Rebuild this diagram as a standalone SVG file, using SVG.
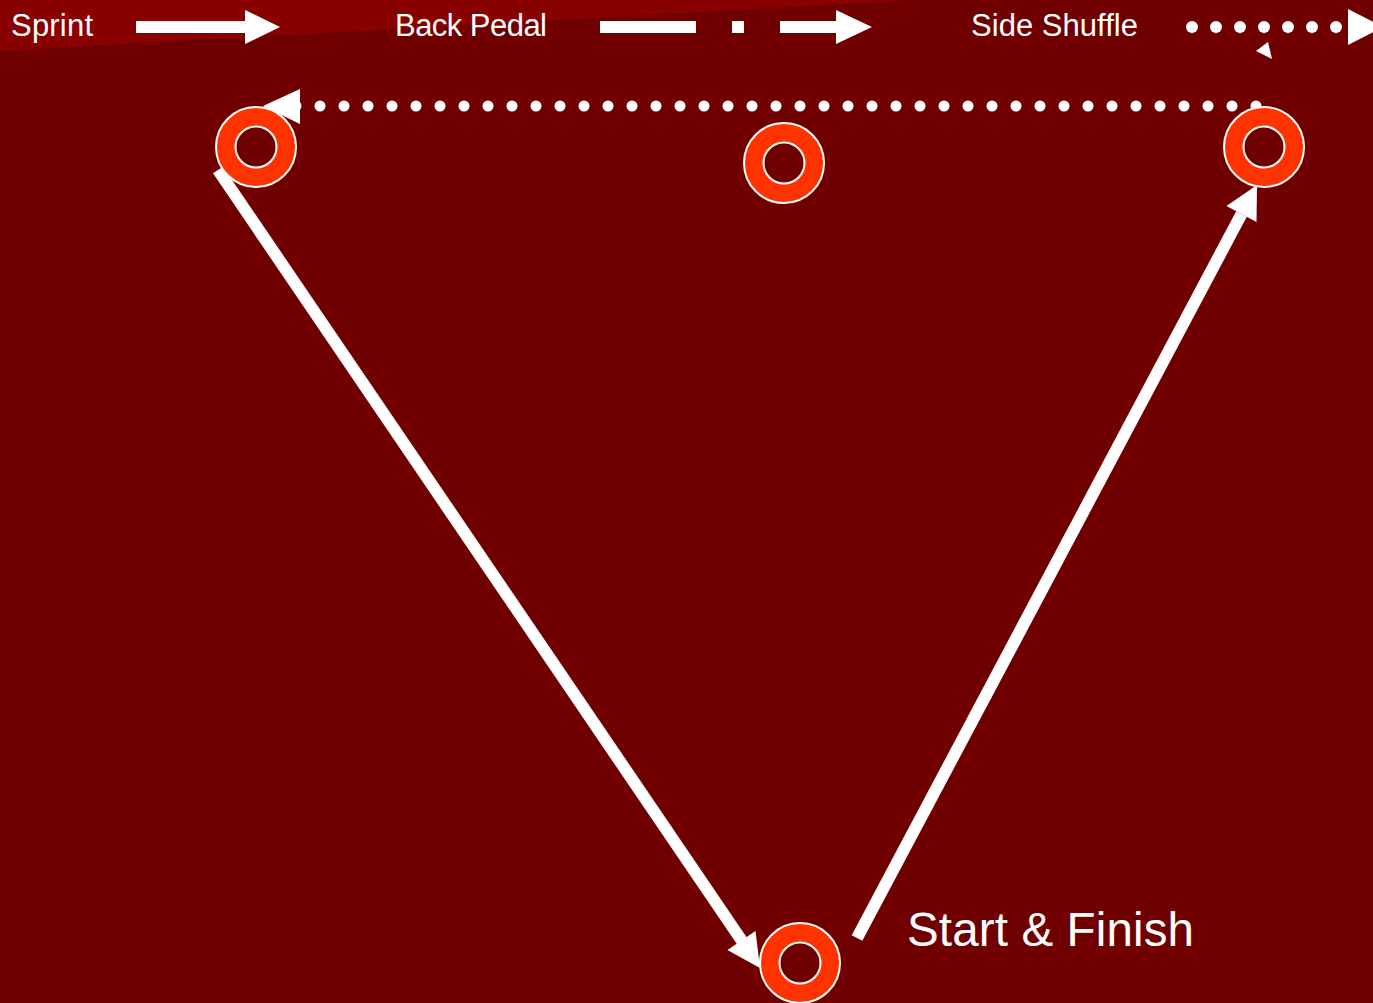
<svg xmlns="http://www.w3.org/2000/svg" width="1373" height="1003" viewBox="0 0 1373 1003">
  <defs>
    <style>
      .lbl { font-family: "Liberation Sans", Arial, sans-serif; fill: #ffffff; }
      .wf { fill: #ffffff; }
      .ws { stroke: #ffffff; fill: none; }
      .cone { fill: #ff3300; stroke: #ffffff; stroke-width: 2; }
      .hole { fill: #700000; stroke: #ffffff; stroke-width: 2; }
    </style>
    <g id="coneShape">
      <circle class="cone" r="40"/>
      <circle class="hole" r="20.5"/>
    </g>
  </defs>
  <rect width="1373" height="1003" fill="#700000"/>
  <polygon points="0,0 915,0 0,51" fill="#880000"/>

  <g id="legend">
    <text class="lbl" x="11" y="36" font-size="31" textLength="82">Sprint</text>
    <rect class="wf" x="136" y="21" width="110" height="12"/>
    <polygon class="wf" points="245,10 280,27 245,44"/>
    <text class="lbl" x="395" y="36" font-size="31" textLength="152">Back Pedal</text>
    <rect class="wf" x="600" y="21" width="96" height="12"/>
    <rect class="wf" x="732" y="21" width="12" height="12"/>
    <rect class="wf" x="780" y="21" width="57" height="12"/>
    <polygon class="wf" points="836,10 872,27 836,44"/>
    <text class="lbl" x="971" y="36" font-size="31" textLength="167">Side Shuffle</text>
    <g class="wf">
      <circle cx="1192" cy="27" r="6"/>
      <circle cx="1216" cy="27" r="6"/>
      <circle cx="1240" cy="27" r="6"/>
      <circle cx="1264" cy="27" r="6"/>
      <circle cx="1288" cy="27" r="6"/>
      <circle cx="1312" cy="27" r="6"/>
      <circle cx="1336" cy="27" r="6"/>
    </g>
    <polygon class="wf" points="1348,9 1383,27 1348,45"/>
    <polygon class="wf" points="1256,51 1268,42 1272,59"/>
  </g>

  <g id="connectors">
    <line class="ws" x1="218" y1="170" x2="742" y2="941" stroke-width="12"/>
    <polygon class="wf" points="760,968 755.5,931 727.4,950"/>
    <line class="ws" x1="857" y1="938" x2="1241.5" y2="214" stroke-width="12"/>
    <polygon class="wf" points="1257,185 1256.5,222 1226.5,206"/>
    <g class="wf">
      <circle cx="296" cy="106" r="5.5"/>
      <circle cx="320" cy="106" r="5.5"/><circle cx="344" cy="106" r="5.5"/><circle cx="368" cy="106" r="5.5"/><circle cx="392" cy="106" r="5.5"/>
      <circle cx="416" cy="106" r="5.5"/><circle cx="440" cy="106" r="5.5"/><circle cx="464" cy="106" r="5.5"/><circle cx="488" cy="106" r="5.5"/>
      <circle cx="512" cy="106" r="5.5"/><circle cx="536" cy="106" r="5.5"/><circle cx="560" cy="106" r="5.5"/><circle cx="584" cy="106" r="5.5"/>
      <circle cx="608" cy="106" r="5.5"/><circle cx="632" cy="106" r="5.5"/><circle cx="656" cy="106" r="5.5"/><circle cx="680" cy="106" r="5.5"/>
      <circle cx="704" cy="106" r="5.5"/><circle cx="728" cy="106" r="5.5"/><circle cx="752" cy="106" r="5.5"/><circle cx="776" cy="106" r="5.5"/>
      <circle cx="800" cy="106" r="5.5"/><circle cx="824" cy="106" r="5.5"/><circle cx="848" cy="106" r="5.5"/><circle cx="872" cy="106" r="5.5"/>
      <circle cx="896" cy="106" r="5.5"/><circle cx="920" cy="106" r="5.5"/><circle cx="944" cy="106" r="5.5"/><circle cx="968" cy="106" r="5.5"/>
      <circle cx="992" cy="106" r="5.5"/><circle cx="1016" cy="106" r="5.5"/><circle cx="1040" cy="106" r="5.5"/><circle cx="1064" cy="106" r="5.5"/>
      <circle cx="1088" cy="106" r="5.5"/><circle cx="1112" cy="106" r="5.5"/><circle cx="1136" cy="106" r="5.5"/><circle cx="1160" cy="106" r="5.5"/>
      <circle cx="1184" cy="106" r="5.5"/><circle cx="1208" cy="106" r="5.5"/><circle cx="1232" cy="106" r="5.5"/><circle cx="1256" cy="106" r="5.5"/>
    </g>
    <polygon class="wf" points="300,89 300,124 263,106"/>
  </g>

  <g id="cone-top-left"><use href="#coneShape" x="256" y="147"/></g>
  <g id="cone-middle"><use href="#coneShape" x="784" y="163"/></g>
  <g id="cone-top-right"><use href="#coneShape" x="1264" y="147"/></g>
  <g id="cone-start-finish">
    <use href="#coneShape" x="800" y="963"/>
    <text class="lbl" x="907" y="946" font-size="47.5" textLength="287">Start &amp; Finish</text>
  </g>
</svg>
